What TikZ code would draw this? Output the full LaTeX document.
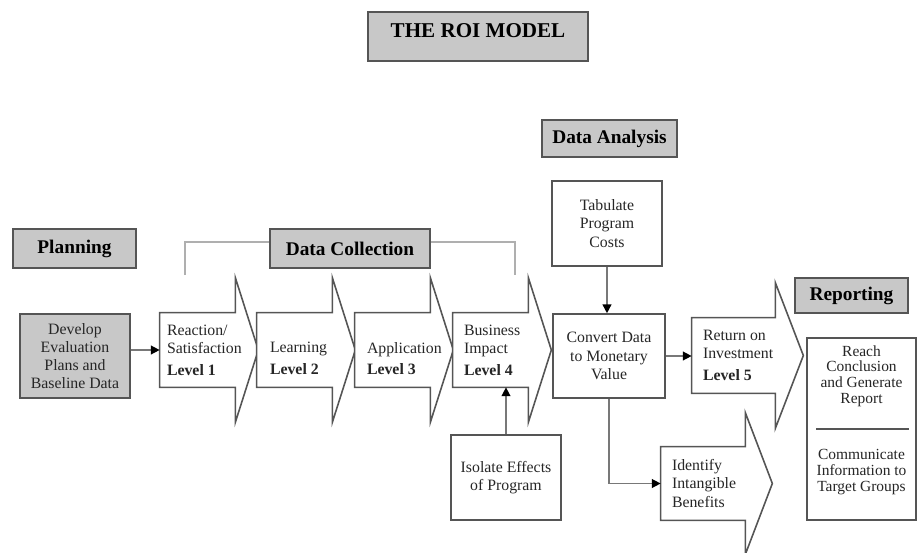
\documentclass[tikz,border=0pt]{standalone}
\usepackage{fontspec}
\setmainfont{Liberation Serif}
\usepackage{tikz}
\usetikzlibrary{positioning,calc}
\usetikzlibrary{arrows.meta}
\definecolor{HeadGray}{RGB}{200,200,200}
\definecolor{EdgeGray}{RGB}{85,85,85}
\definecolor{LinkGray}{RGB}{120,120,120}
\definecolor{BraceGray}{RGB}{175,175,175}
\tikzset{
  hdr/.style={draw=EdgeGray,fill=HeadGray,line width=.9pt,inner sep=2pt,
    font=\bfseries\fontsize{11}{13}\selectfont,minimum height=.78cm},
  box/.style={draw=EdgeGray,fill=white,line width=.9pt,inner sep=2pt,align=center,
    text=black!85,font=\fontsize{9}{10.4}\selectfont},
  body/.style={minimum width=1.5cm,minimum height=1.48cm,inner sep=0pt},
  blk/.style={draw=EdgeGray,fill=white,line width=.9pt},
  lbl/.style={anchor=west,inner sep=0pt,align=left,text=black!85,
    font=\fontsize{9}{10.4}\selectfont},
  link/.style={draw=LinkGray,line width=.8pt,-{Triangle[length=5pt,width=5pt,color=black]}},
  brace/.style={draw=BraceGray,line width=.7pt},
}

\begin{document}
\begin{tikzpicture}[x=0.02cm,y=-0.02cm]
\useasboundingbox (0,0) rectangle (917,552);
% phase headings
\node[hdr,minimum width=4.4cm,minimum height=.98cm,text depth=.25cm,
  font=\bfseries\fontsize{12}{14}\selectfont] (title) at (478,36.5) {THE ROI MODEL};
\node[hdr,minimum width=2.46cm] (plan) at (74.5,248.5) {Planning};
\node[hdr,minimum width=3.2cm] (dcol) at (350,248.5) {Data Collection};
\node[hdr,minimum width=2.7cm,minimum height=.74cm] (dana) at (609.5,138.5) {Data Analysis};
\node[hdr,minimum width=2.26cm,minimum height=.7cm] (rept) at (851.5,295.5) {Reporting};
% plain boxes
\node[box,fill=HeadGray,minimum width=2.2cm,minimum height=1.68cm] (dev) at (75,356)
  {Develop\\Evaluation\\Plans and\\Baseline Data};
\node[box,minimum width=2.2cm,minimum height=1.7cm] (tab) at (607,223.5)
  {Tabulate\\Program\\Costs};
\node[box,minimum width=2.24cm,minimum height=1.68cm] (conv) at (609,356)
  {Convert Data\\to Monetary\\Value};
\node[box,minimum width=2.2cm,minimum height=1.7cm] (iso) at (506,477.5)
  {Isolate Effects\\of Program};
\node[box,minimum width=2.18cm,minimum height=3.64cm] (rpt) at (861.5,429) {};
\node[lbl,anchor=center,align=center,font=\fontsize{8.8}{9}\selectfont] (reach) at (861.5,376)
  {Reach\\Conclusion\\and Generate\\Report};
\node[lbl,anchor=center,align=center,font=\fontsize{8.8}{9}\selectfont] (comm) at (861.5,472)
  {Communicate\\Information to\\Target Groups};
\draw[draw=EdgeGray,line width=.9pt] ([xshift=.2cm]rpt.west) -- ([xshift=-.16cm]rpt.east);
% block arrows
\node[body] (l1) at (197.5,350) {};
\node[body] (l2) at (294.5,350) {};
\node[body] (l3) at (392.5,350) {};
\node[body] (l4) at (490.5,350) {};
\node[body,minimum width=1.66cm,minimum height=1.5cm] (roi) at (733.5,355.5) {};
\node[body,minimum width=1.68cm,minimum height=1.46cm] (idb) at (703,483.5) {};
\draw[blk] (l1.south west) -- (l1.north west) -- (l1.north east) -- ([yshift=.7cm]l1.north east)
  -- ([xshift=.46cm]l1.east) -- ([yshift=-.7cm]l1.south east) -- (l1.south east) -- cycle;
\draw[blk] (l2.south west) -- (l2.north west) -- (l2.north east) -- ([yshift=.7cm]l2.north east)
  -- ([xshift=.46cm]l2.east) -- ([yshift=-.7cm]l2.south east) -- (l2.south east) -- cycle;
\draw[blk] (l3.south west) -- (l3.north west) -- (l3.north east) -- ([yshift=.7cm]l3.north east)
  -- ([xshift=.46cm]l3.east) -- ([yshift=-.7cm]l3.south east) -- (l3.south east) -- cycle;
\draw[blk] (l4.south west) -- (l4.north west) -- (l4.north east) -- ([yshift=.7cm]l4.north east)
  -- ([xshift=.46cm]l4.east) -- ([yshift=-.7cm]l4.south east) -- (l4.south east) -- cycle;
\draw[blk] (roi.south west) -- (roi.north west) -- (roi.north east) -- ([yshift=.7cm]roi.north east)
  -- ([xshift=.56cm]roi.east) -- ([yshift=-.7cm]roi.south east) -- (roi.south east) -- cycle;
\draw[blk] (idb.south west) -- (idb.north west) -- (idb.north east) -- ([yshift=.68cm]idb.north east)
  -- ([xshift=.54cm]idb.east) -- ([yshift=-.68cm]idb.south east) -- (idb.south east) -- cycle;
\node[lbl] (l1t) at ([xshift=.14cm]l1.west) {Reaction/\\Satisfaction\\[2pt]\textbf{Level 1}};
\node[lbl] (l2t) at ([xshift=.26cm,yshift=-.17cm]l2.west) {Learning\\[2pt]\textbf{Level 2}};
\node[lbl] (l3t) at ([xshift=.24cm,yshift=-.17cm]l3.west) {Application\\[2pt]\textbf{Level 3}};
\node[lbl] (l4t) at ([xshift=.22cm]l4.west) {Business\\Impact\\[2pt]\textbf{Level 4}};
\node[lbl] (roit) at ([xshift=.22cm]roi.west) {Return on\\Investment\\[2pt]\textbf{Level 5}};
\node[lbl] (idbt) at ([xshift=.22cm]idb.west) {Identify\\Intangible\\Benefits};
% connectors
\coordinate (dcl) at (185,275);
\coordinate (dcr) at (515,275);
\draw[brace] (dcl) |- ([yshift=.13cm]dcol.west);
\draw[brace] ([yshift=.13cm]dcol.east) -| (dcr);
\draw[link] (dev.east |- l1.west) -- (l1.west);
\draw[link] (tab.south) -- (tab.south |- conv.north);
\draw[link] (conv.east) -- (conv.east -| roi.west);
\draw[link] (iso.north) -- (iso.north |- l4.south);
\draw[link] (conv.south) |- (idb.west);
\end{tikzpicture}
\end{document}
